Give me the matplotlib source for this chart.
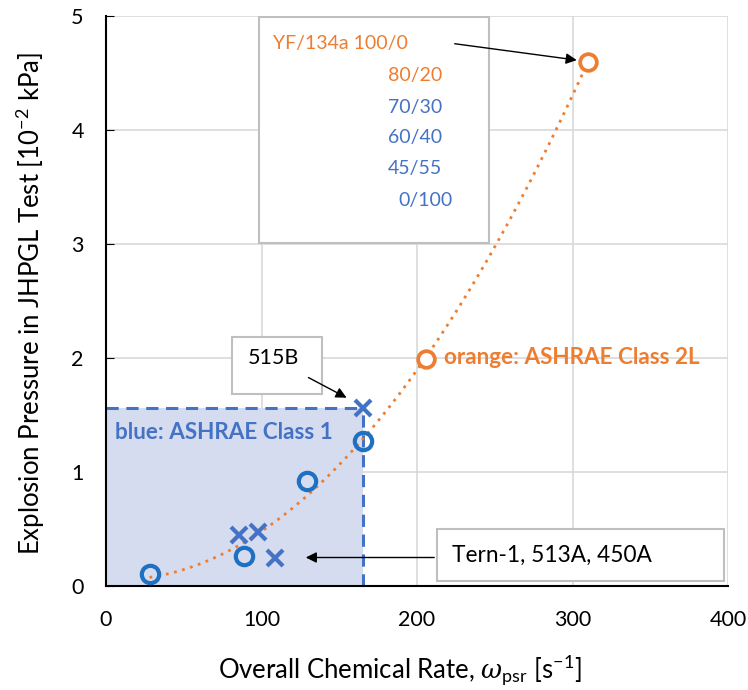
import numpy as np
import matplotlib
matplotlib.use("Agg")
import matplotlib.pyplot as plt
from matplotlib.patches import Rectangle

plt.rcParams['font.family'] = ['Lato', 'DejaVu Sans']
plt.rcParams['mathtext.fontset'] = 'custom'
plt.rcParams['mathtext.rm'] = 'Lato'
plt.rcParams['mathtext.it'] = 'DejaVu Serif:italic'

ORANGE = '#ED7D31'
BLUE = '#4472C4'
BLUE_C = '#1F70C1'

# data
orange_x = [206, 310]
orange_y = [1.99, 4.6]
blue_circ_x = [28, 89, 129, 165]
blue_circ_y = [0.105, 0.26, 0.92, 1.27]
blue_x_x = [165, 85.5, 98, 109]
blue_x_y = [1.56, 0.45, 0.47, 0.25]
class1_x = 165
class1_y = 1.56
blend_labels = ['YF/134a 100/0', '80/20', '70/30', '60/40', '45/55', '0/100']
x_ticks = [0, 100, 200, 300, 400]
y_ticks = [0, 1, 2, 3, 4, 5]

fig = plt.figure(figsize=(7.48, 6.9), dpi=100)
ax = fig.add_axes([106/748, 1-586/690, 622/748, 570/690])
ax.set_xlim(0, 400)
ax.set_ylim(0, 5)
ax.set_xticks(x_ticks)
ax.set_yticks(y_ticks)
ax.grid(True, color='#D9D9D9', lw=1.2)
ax.set_axisbelow(True)
for s in ['top', 'right']:
    ax.spines[s].set_visible(False)
for s in ['left', 'bottom']:
    ax.spines[s].set_linewidth(1.5)
ax.tick_params(axis='x', length=0, labelsize=15.5, pad=17)
ax.tick_params(axis='y', direction='in', length=6, labelsize=15.5, pad=16)

# shaded region
ax.add_patch(Rectangle((0, 0), class1_x, class1_y, facecolor='#D5DCEF', edgecolor='none', zorder=1))
ax.plot([0, class1_x], [class1_y, class1_y], ls=(0, (4, 2.5)), color=BLUE, lw=2.2, zorder=2)
ax.plot([class1_x, class1_x], [0, class1_y], ls=(0, (4, 2.5)), color=BLUE, lw=2.2, zorder=2)

# trendline (quadratic fit of circle points)
cx = np.array(blue_circ_x + orange_x, dtype=float)
cy = np.array(blue_circ_y + orange_y, dtype=float)
coef = np.polyfit(cx, cy, 2)
tx = np.linspace(28, 312, 200)
ax.plot(tx, np.polyval(coef, tx), ls=(0, (1, 2)), color=ORANGE, lw=2, zorder=3)

ax.plot(orange_x, orange_y, 'o', ms=12, mfc='white', mec=ORANGE, mew=2.7, zorder=4)
ax.plot(blue_circ_x, blue_circ_y, 'o', ms=12.5, mfc='none', mec=BLUE_C, mew=3, zorder=4)
ax.plot(blue_x_x, blue_x_y, 'x', ms=11.5, mec=BLUE, mew=3, zorder=4)

# blend box
ax.add_patch(Rectangle((98.4, 3.01), 147.9, 1.98, facecolor='white', edgecolor='#BFBFBF', lw=1.5, zorder=5))
ys = [4.76, 4.48, 4.20, 3.93, 3.66, 3.38]
cols = [ORANGE, ORANGE, BLUE, BLUE, BLUE, BLUE]
ax.text(107.4, ys[0], blend_labels[0], color=cols[0], fontsize=14, va='center', ha='left', zorder=7)
for lab, y, c in zip(blend_labels[1:-1], ys[1:-1], cols[1:-1]):
    ax.text(216, y, lab, color=c, fontsize=14, va='center', ha='right', zorder=7)
ax.text(223, ys[-1], blend_labels[-1], color=cols[-1], fontsize=14, va='center', ha='right', zorder=7)
ax.annotate('', xy=(304.5, 4.61), xytext=(222.5, 4.76),
            arrowprops=dict(arrowstyle='-|>', color='black', lw=1, mutation_scale=16), zorder=7)

# 515B
ax.add_patch(Rectangle((81, 1.68), 58, 0.5, facecolor='white', edgecolor='#BFBFBF', lw=1.5, zorder=5))
ax.text(108, 2.0, '515B', fontsize=15.5, va='center', ha='center', zorder=7)
ax.annotate('', xy=(156.3, 1.64), xytext=(128.6, 1.84),
            arrowprops=dict(arrowstyle='-|>', color='black', lw=1, mutation_scale=16), zorder=7)

# class labels
ax.text(217.5, 2.0, 'orange: ASHRAE Class 2L', color=ORANGE, fontsize=16.2, fontweight='bold', va='center', ha='left', zorder=7)
ax.text(5.8, 1.35, 'blue: ASHRAE Class 1', color=BLUE, fontsize=16.2, fontweight='bold', va='center', ha='left', zorder=7)

# Tern box
ax.add_patch(Rectangle((212.9, 0.044), 184.5, 0.456, facecolor='white', edgecolor='#BFBFBF', lw=1.5, zorder=5))
ax.text(222.5, 0.27, 'Tern-1, 513A, 450A', fontsize=16.3, va='center', ha='left', zorder=7)
ax.annotate('', xy=(126.7, 0.25), xytext=(212.9, 0.25),
            arrowprops=dict(arrowstyle='-|>', color='black', lw=1, mutation_scale=16), zorder=7)

fig.text(400/748, 1-679/690, r'Overall Chemical Rate, $\mathit{\omega}_{\mathrm{psr}}$ [s$^{-1}$]',
         fontsize=18.5, ha='center', va='baseline')
fig.text(40/748, 1-304/690, r'Explosion Pressure in JHPGL Test [10$^{-2}$ kPa]',
         fontsize=18.5, ha='center', va='baseline', rotation=90, rotation_mode='anchor')

fig.savefig('out.png', dpi=100)
